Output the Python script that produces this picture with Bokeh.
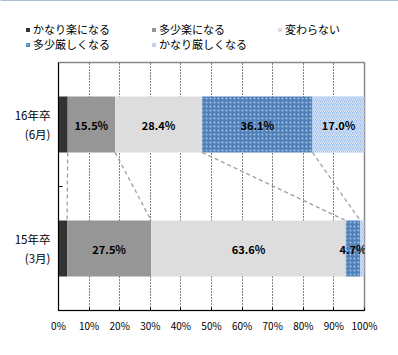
from bokeh.plotting import figure
from bokeh.models import Range1d, FixedTicker, Legend, LegendItem, ColumnDataSource
from bokeh.embed import file_html
from bokeh.resources import INLINE
from bokeh.core.properties import value

# ---- data ----
category_labels = ["15年卒\n(3月)", "16年卒\n(6月)"]
category_pos = [0.5, 1.5]
series_names = ["かなり楽になる", "多少楽になる", "変わらない", "多少厳しくなる", "かなり厳しくなる"]
values_15 = [2.8, 27.5, 63.6, 4.7, 1.4]
values_16 = [3.0, 15.5, 28.4, 36.1, 17.0]
show_label_15 = [False, True, True, True, False]
show_label_16 = [False, True, True, True, True]
tick_values = [0, 10, 20, 30, 40, 50, 60, 70, 80, 90, 100]
tick_labels = ["0%", "10%", "20%", "30%", "40%", "50%", "60%", "70%", "80%", "90%", "100%"]

# ---- styles ----
colors = ["#333333", "#969696", "#DDDDDD", "#4F81BD", "#A6C3EC"]
hatches = [None, None, None, "dot", "right_diagonal_line"]
hatch_scales = [1, 1, 1, 4, 4]
hatch_weights = [1, 1, 1, 0.4, 1]
hatch_alphas = [0, 0, 0, 0.5, 0.6]
FONT = "Noto Sans CJK JP"
BAR_H = 0.45


def style_kwargs(i):
    kw = dict(fill_color=colors[i], line_color=None)
    if hatches[i]:
        kw.update(hatch_pattern=hatches[i], hatch_color="white", hatch_alpha=hatch_alphas[i],
                  hatch_scale=hatch_scales[i], hatch_weight=hatch_weights[i])
    return kw


# ---- legend strip (separate root, so frames are not aligned) ----
lg = figure(width=398, height=60, output_backend="svg", toolbar_location=None,
            x_range=Range1d(0, 1), y_range=Range1d(0, 1),
            x_axis_location=None, y_axis_location=None,
            min_border=0, min_border_left=0, min_border_right=0, min_border_top=0, min_border_bottom=0)
lg.outline_line_color = None
lg.xgrid.visible = False
lg.ygrid.visible = False
lg.background_fill_color = "white"
lg.border_fill_color = "white"
dummy = []
for i in range(len(series_names)):
    # data lies outside the visible range: only the legend swatch is shown
    dummy.append(lg.hbar(y=[10], left=[0], right=[1], height=0.5, **style_kwargs(i)))
items = [LegendItem(label=n, renderers=[r]) for n, r in zip(series_names, dummy)]
legend_kw = dict(orientation="horizontal", glyph_width=5, glyph_height=5, label_standoff=3,
                 label_width=118, label_height=15, spacing=0, padding=0, margin=0,
                 label_text_font=FONT, label_text_font_size="11px", label_text_color="black",
                 border_line_alpha=0, background_fill_alpha=0)
lg.add_layout(Legend(items=items[:3], location=(25, 23), **legend_kw))
lg.add_layout(Legend(items=items[3:], location=(25, 8), **legend_kw))

# ---- main chart ----
p = figure(width=398, height=295, output_backend="svg", toolbar_location=None,
           x_range=Range1d(0, 100), y_range=Range1d(0, 2),
           min_border_left=58, min_border_right=34, min_border_top=2, min_border_bottom=45)
p.background_fill_color = "white"
p.border_fill_color = "white"
p.outline_line_color = "#868686"
p.outline_line_width = 1.5

p.xaxis.ticker = FixedTicker(ticks=tick_values)
p.xaxis.major_label_overrides = {v: l for v, l in zip(tick_values, tick_labels)}
p.xaxis.major_tick_in = 3
p.xaxis.major_tick_out = 0
p.xaxis.minor_tick_line_color = None
p.xaxis.axis_line_color = "black"
p.xaxis.major_tick_line_color = "black"
p.xaxis.major_label_text_font = FONT
p.xaxis.major_label_text_font_size = "10px"
p.xaxis.major_label_text_color = "black"
p.xaxis.major_label_standoff = 7

p.yaxis.ticker = FixedTicker(ticks=category_pos, minor_ticks=[1.0])
p.yaxis.major_label_overrides = {v: l for v, l in zip(category_pos, category_labels)}
p.yaxis.major_tick_in = 0
p.yaxis.major_tick_out = 0
p.yaxis.minor_tick_in = 4
p.yaxis.minor_tick_out = 0
p.yaxis.minor_tick_line_color = "black"
p.yaxis.axis_line_color = "black"
p.yaxis.major_label_text_font = FONT
p.yaxis.major_label_text_font_size = "11.5px"
p.yaxis.major_label_text_color = "black"
p.yaxis.major_label_standoff = 8

p.xgrid.ticker = FixedTicker(ticks=tick_values[1:-1])
p.xgrid.grid_line_color = "black"
p.xgrid.grid_line_dash = "1 2"
p.xgrid.grid_line_width = 1
p.ygrid.grid_line_color = None

cum15 = [0.0]
cum16 = [0.0]
for v15, v16 in zip(values_15, values_16):
    cum15.append(cum15[-1] + v15)
    cum16.append(cum16[-1] + v16)

lx, ly, lt = [], [], []
for i, name in enumerate(series_names):
    src = ColumnDataSource(dict(
        y=category_pos,
        left=[cum15[i], cum16[i]],
        right=[cum15[i + 1], cum16[i + 1]],
    ))
    p.hbar(y="y", left="left", right="right", height=BAR_H, source=src, **style_kwargs(i))
    if show_label_15[i]:
        lx.append((cum15[i] + cum15[i + 1]) / 2); ly.append(category_pos[0]); lt.append(f"{values_15[i]:.1f}%")
    if show_label_16[i]:
        lx.append((cum16[i] + cum16[i + 1]) / 2); ly.append(category_pos[1]); lt.append(f"{values_16[i]:.1f}%")

p.segment(x0=cum16[1:5], y0=[category_pos[1] - BAR_H / 2] * 4,
          x1=cum15[1:5], y1=[category_pos[0] + BAR_H / 2] * 4,
          line_color="#A0A0A0", line_dash="4 3", line_width=1.3)

p.text(x=lx, y=ly, text=lt, text_font=value(FONT), text_font_style="bold",
       text_font_size="11px", text_align="center", text_baseline="middle", text_color="black")

open("out.html", "w").write(file_html([lg, p], INLINE))
